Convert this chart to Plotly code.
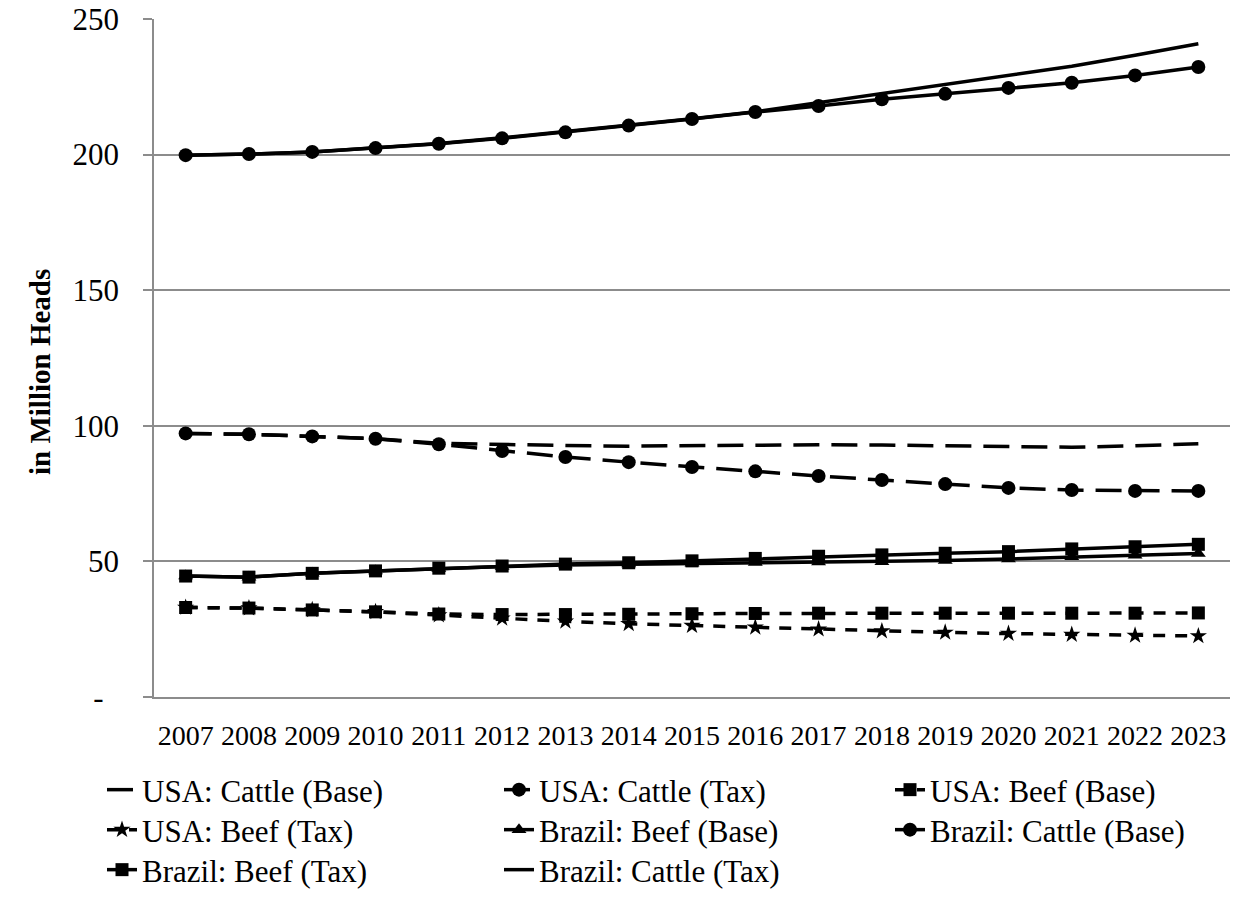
import plotly.graph_objects as go

years = [str(y) for y in range(2007, 2024)]

usa_cattle_base = [97.2, 96.9, 96.1, 95.2, 93.6, 93.0, 92.7, 92.5, 92.7, 92.9, 93.0, 92.9, 92.6, 92.3, 92.1, 92.6, 93.4]
usa_cattle_tax = [97.2, 96.9, 96.1, 95.2, 93.2, 90.7, 88.5, 86.6, 84.8, 83.2, 81.5, 80.0, 78.5, 77.1, 76.3, 76.0, 76.0]
usa_beef_base = [33.0, 32.8, 32.1, 31.4, 30.6, 30.4, 30.4, 30.5, 30.7, 30.8, 30.9, 30.9, 30.9, 30.9, 30.9, 30.9, 31.0]
usa_beef_tax = [33.0, 32.8, 32.1, 31.4, 30.2, 29.0, 27.9, 27.0, 26.3, 25.7, 25.0, 24.3, 23.8, 23.4, 23.0, 22.7, 22.5]
brazil_beef_base = [44.6, 44.2, 45.6, 46.5, 47.4, 48.1, 48.7, 49.0, 49.3, 49.6, 49.8, 49.9, 50.3, 50.9, 51.7, 52.3, 52.9]
brazil_cattle_base = [199.8, 200.2, 201.0, 202.4, 204.0, 206.0, 208.2, 210.7, 213.1, 215.7, 217.9, 220.4, 222.4, 224.6, 226.5, 229.2, 232.3]
brazil_beef_tax = [44.6, 44.2, 45.6, 46.5, 47.5, 48.3, 49.0, 49.5, 50.2, 51.1, 51.9, 52.4, 53.0, 53.6, 54.6, 55.4, 56.3]
brazil_cattle_tax = [199.8, 200.2, 201.0, 202.4, 204.1, 206.2, 208.5, 210.9, 213.2, 215.8, 219.2, 222.6, 225.9, 229.2, 232.6, 236.6, 240.9]

y_tickvals = [0, 50, 100, 150, 200, 250]
y_ticktext = ["-\u00a0\u00a0", "50", "100", "150", "200", "250"]

FONT = "Liberation Serif, Times New Roman, serif"
LONG = "26px,12px"
SHORT = "12px,10px"
LW = 3.5

series = [
    ("USA: Cattle (Base)", usa_cattle_base, LONG, None, 0),
    ("USA: Cattle (Tax)", usa_cattle_tax, LONG, "circle", 14),
    ("USA: Beef (Base)", usa_beef_base, SHORT, "square", 13),
    ("USA: Beef (Tax)", usa_beef_tax, SHORT, "star", 13),
    ("Brazil: Beef (Base)", brazil_beef_base, "solid", "triangle-up", 13),
    ("Brazil: Cattle (Base)", brazil_cattle_base, "solid", "circle", 14),
    ("Brazil: Beef (Tax)", brazil_beef_tax, "solid", "square", 13),
    ("Brazil: Cattle (Tax)", brazil_cattle_tax, "solid", None, 0),
]

# legend anchor x (px) and row centre y (px), in figure coordinates
leg_pos = [(144, 790), (541, 790), (932, 790),
           (144, 830), (541, 830), (932, 830),
           (144, 870), (541, 870)]

W, H = 1238, 899
ML, MR, MT, MB = 154, 8, 19, 202
PW, PH = W - ML - MR, H - MT - MB
fig = go.Figure()
layout_legends = {}
for i, (name, vals, dash, sym, size) in enumerate(series):
    lname = "legend" if i == 0 else f"legend{i+1}"
    mode = "lines+markers" if sym else "lines"
    kw = dict(x=years, y=vals, name=name, mode=mode,
              line=dict(color="black", width=LW, dash=dash),
              legend=lname, showlegend=True)
    if sym:
        kw["marker"] = dict(symbol=sym, size=size, color="black")
    fig.add_trace(go.Scatter(**kw))
    tx, ty = leg_pos[i]
    layout_legends[lname] = dict(
        x=(tx - 42) / W, xref="container", xanchor="left",
        y=1 - ty / H, yref="container", yanchor="middle",
        orientation="h", bgcolor="rgba(0,0,0,0)", visible=True,
        font=dict(family=FONT, size=31, color="black"),
    )

fig.update_layout(
    width=W, height=H, showlegend=True,
    margin=dict(l=ML, r=MR, t=MT, b=MB, autoexpand=False),
    paper_bgcolor="white", plot_bgcolor="white",
    font=dict(family=FONT, color="black"),
    **layout_legends,
)
fig.update_xaxes(
    type="category", range=[-0.5, 16.5], automargin=False,
    showgrid=False, showline=True, linecolor="#8c8c8c", linewidth=1.5,
    ticks="", tickfont=dict(family=FONT, size=28, color="black"),
    ticklabelstandoff=13, zeroline=False, ticklabeloverflow="allow",
)
fig.update_yaxes(
    range=[0, 250], tickvals=y_tickvals, ticktext=y_ticktext, automargin=False,
    showgrid=True, gridcolor="#8c8c8c", gridwidth=1.5,
    showline=True, linecolor="#8c8c8c", linewidth=1.5,
    ticks="outside", ticklen=9, tickcolor="#8c8c8c", tickwidth=1.5,
    tickfont=dict(family=FONT, size=31, color="black"),
    ticklabelstandoff=18, zeroline=False, ticklabeloverflow="allow",
)
fig.add_annotation(
    text="<b>in Million Heads</b>", textangle=-90,
    x=(40 - ML) / PW, xref="paper", xanchor="center",
    y=((H - MB) - 372) / PH, yref="paper", yanchor="middle",
    showarrow=False, font=dict(family=FONT, size=29, color="black"),
)
fig.write_html("out.html", post_script="document.body.style.margin='0px';",
               config={"displayModeBar": False})
